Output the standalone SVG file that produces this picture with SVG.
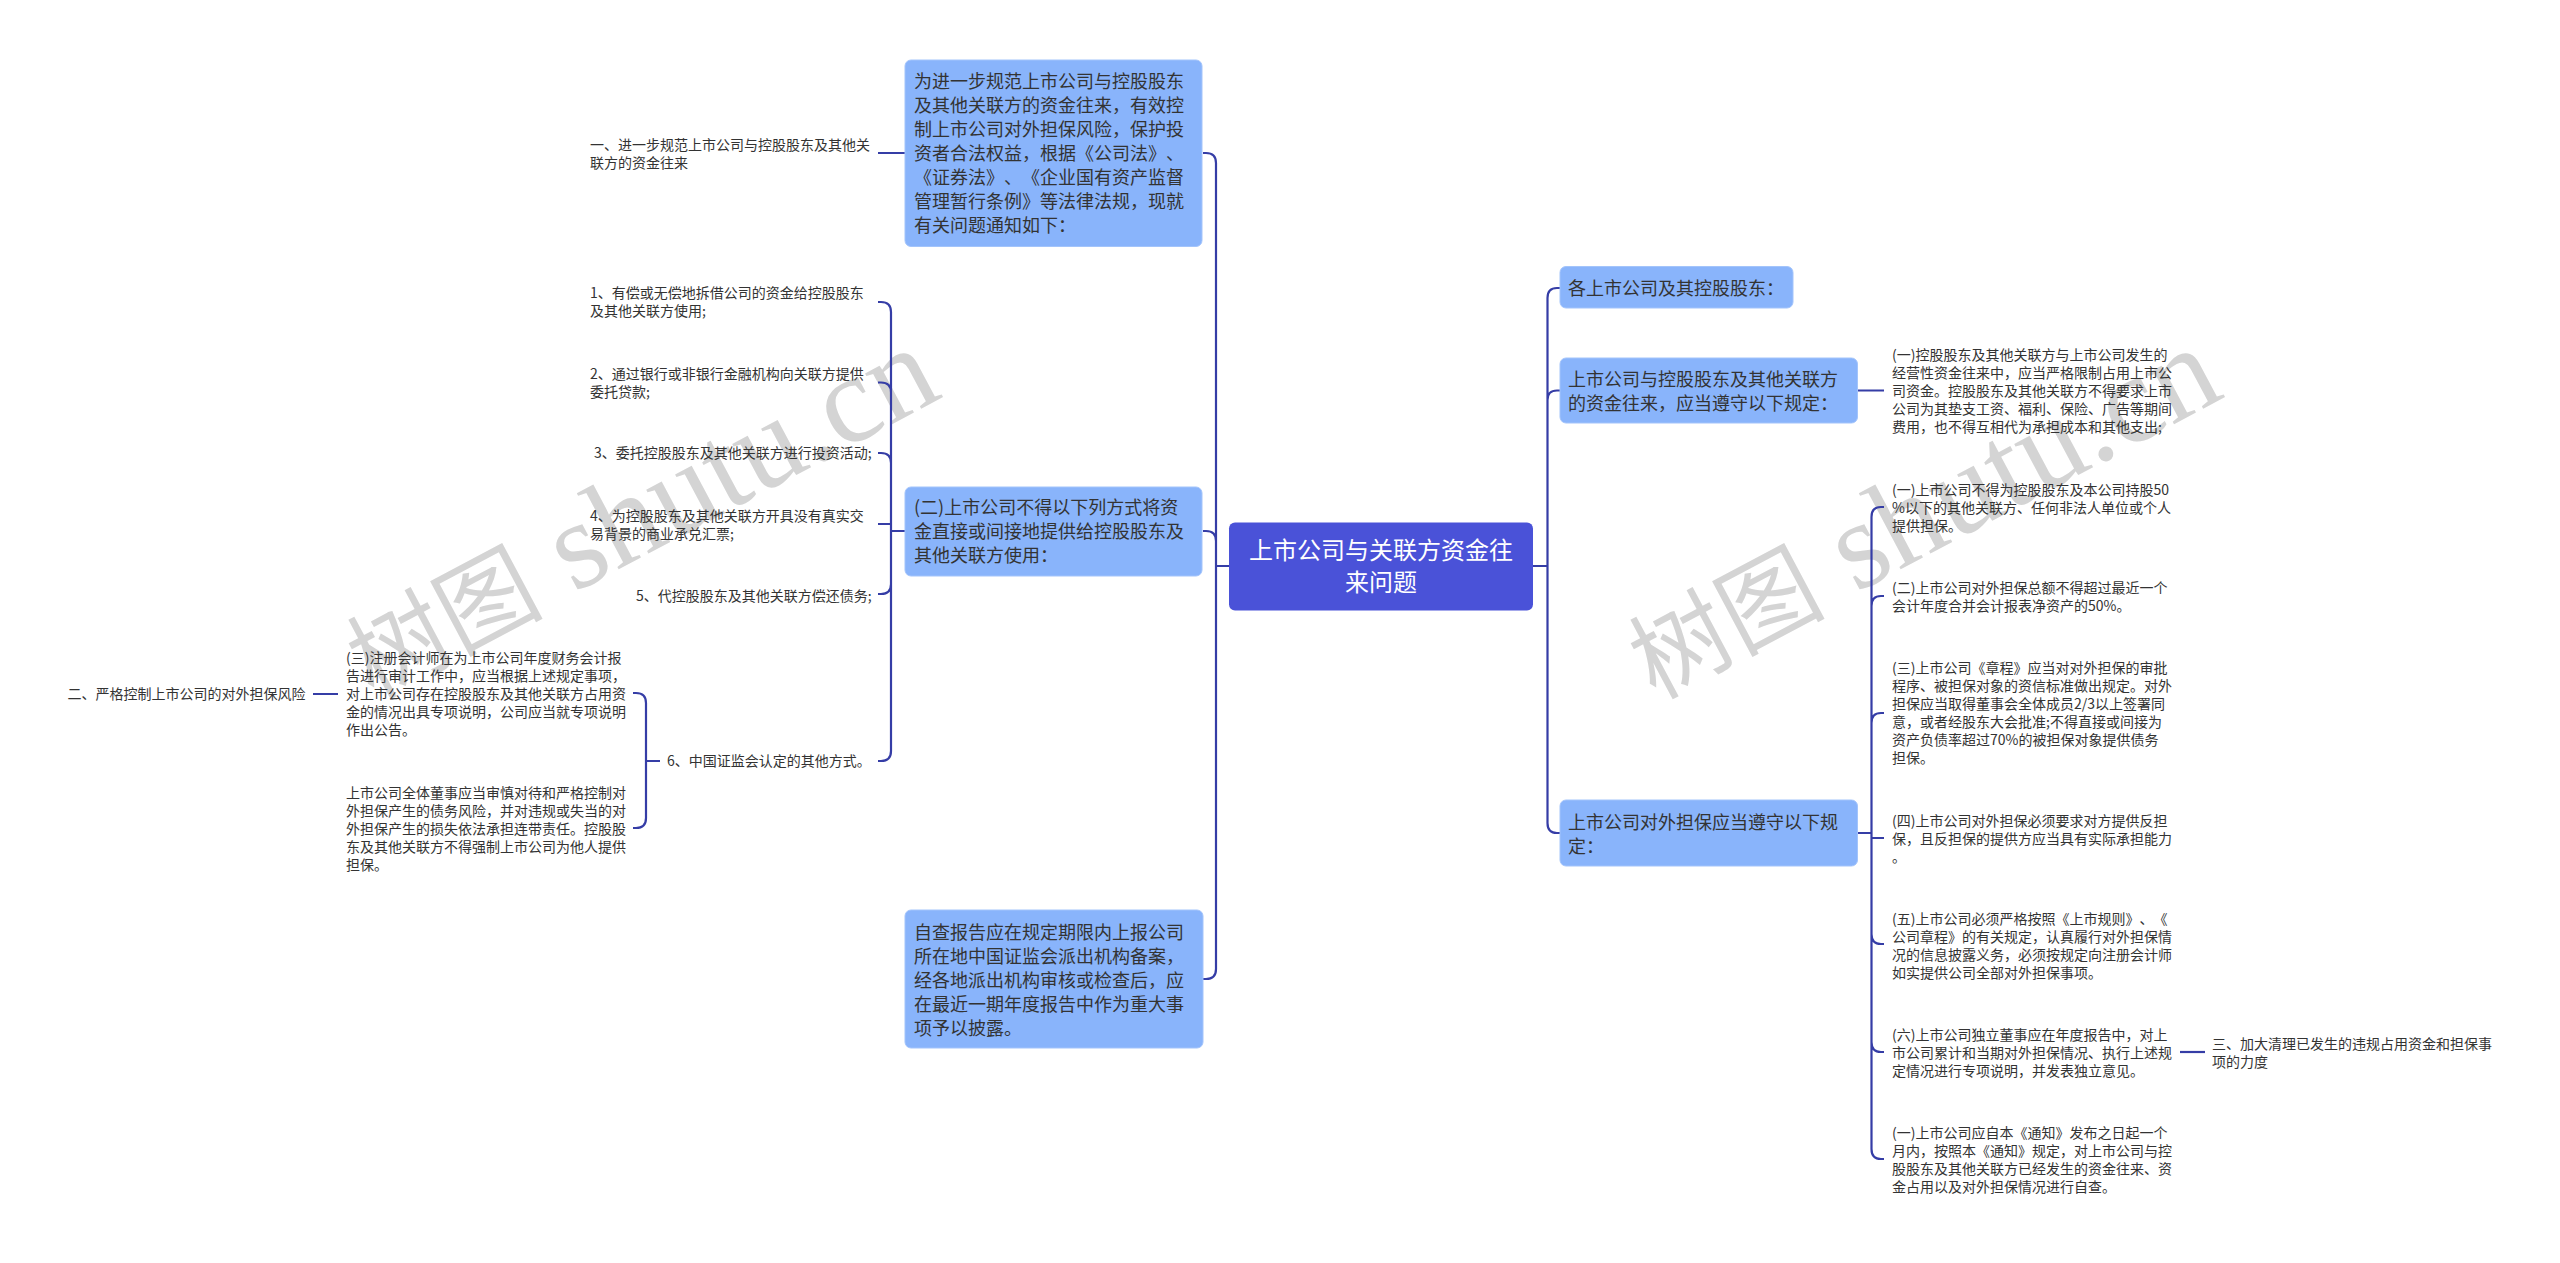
<svg xmlns="http://www.w3.org/2000/svg" width="2560" height="1263" viewBox="0 0 2560 1263">
<style>
text{font-family:"Noto Sans CJK SC","Noto Sans",sans-serif;fill:#333;text-spacing-trim:space-all}
.s{font-size:14px}
.m{font-size:18px}
.r{font-size:24px;fill:#fff;text-anchor:middle}
.b{fill:#89b4fb;stroke:#a3c4fb;stroke-width:1}
.c{fill:none;stroke:#353da6;stroke-width:2.2}
.w{font-family:"Liberation Serif","Noto Sans CJK SC",serif;font-size:125px;fill:#d4d4d4}
.wc{font-family:"Noto Sans CJK SC",serif;font-size:98px}
</style>
<rect width="2560" height="1263" fill="#fff"/>
<g id="watermarks">
<text class="w" transform="translate(373 700) rotate(-28)"><tspan class="wc">树图</tspan> shutu.cn</text>
<text class="w" transform="translate(1655 700) rotate(-28)"><tspan class="wc">树图</tspan> shutu.cn</text>
</g>
<g id="connectors" class="c">
<path d="M1203 153H1206Q1216 153 1216 163V969Q1216 979 1206 979H1203M1203 531H1206Q1216 531 1216 541M1229 566H1216"/>
<path d="M1533 566H1547.5M1560 288H1557Q1547.5 288 1547.5 298V823Q1547.5 833 1557 833H1560M1560 390.5H1557Q1547.5 390.5 1547.5 400"/>
<path d="M1857 390.5H1884M1857 833H1871.5"/>
<path d="M1884 507H1881Q1871.5 507 1871.5 517V1149Q1871.5 1159 1881 1159H1884M1884 596H1881Q1871.5 596 1871.5 606M1884 713H1881Q1871.5 713 1871.5 723M1871.5 838H1884M1884 944H1881Q1871.5 944 1871.5 934M1884 1052H1881Q1871.5 1052 1871.5 1042"/>
<path d="M2180 1052H2205"/>
<path d="M878 153H905M891 531H905"/>
<path d="M878 302H881Q891 302 891 312V751Q891 761 881 761H878M878 382.5H881Q891 382.5 891 392.5M878 453H881Q891 453 891 463M878 524H891M878 594H881Q891 594 891 584"/>
<path d="M633 693H636Q646 693 646 703V818Q646 828 636 828H633M646 761H660M313 694H338"/>
</g>
<g id="root"><rect x="1229" y="522.5" width="304" height="88" rx="6" fill="#4a52d8"/>
<text class="r"><tspan x="1381" y="558.5">上市公司与关联方资金往</tspan><tspan x="1381" y="590.5">来问题</tspan></text></g>
<g id="n1"><rect class="b" x="905" y="60" width="297" height="186.5" rx="6"/>
<text class="m"><tspan x="914" y="87.5">为进一步规范上市公司与控股股东</tspan><tspan x="914" y="111.5">及其他关联方的资金往来，有效控</tspan><tspan x="914" y="135.5">制上市公司对外担保风险，保护投</tspan><tspan x="914" y="159.5">资者合法权益，根据《公司法》、</tspan><tspan x="914" y="183.5">《证券法》、《企业国有资产监督</tspan><tspan x="914" y="207.5">管理暂行条例》等法律法规，现就</tspan><tspan x="914" y="231.5">有关问题通知如下：</tspan></text></g>
<g id="n2"><rect class="b" x="905" y="487" width="297" height="89" rx="6"/>
<text class="m"><tspan x="914" y="514">(二)上市公司不得以下列方式将资</tspan><tspan x="914" y="538">金直接或间接地提供给控股股东及</tspan><tspan x="914" y="562">其他关联方使用：</tspan></text></g>
<g id="n3"><rect class="b" x="905" y="910" width="298" height="138" rx="6"/>
<text class="m"><tspan x="914" y="938.5">自查报告应在规定期限内上报公司</tspan><tspan x="914" y="962.5">所在地中国证监会派出机构备案，</tspan><tspan x="914" y="986.5">经各地派出机构审核或检查后，应</tspan><tspan x="914" y="1010.5">在最近一期年度报告中作为重大事</tspan><tspan x="914" y="1034.5">项予以披露。</tspan></text></g>
<g id="n4"><rect class="b" x="1560" y="266.5" width="233" height="41.5" rx="6"/>
<text class="m"><tspan x="1568" y="294.5">各上市公司及其控股股东：</tspan></text></g>
<g id="n5"><rect class="b" x="1560" y="358" width="297.5" height="65" rx="6"/>
<text class="m"><tspan x="1568" y="385.5">上市公司与控股股东及其他关联方</tspan><tspan x="1568" y="409.5">的资金往来，应当遵守以下规定：</tspan></text></g>
<g id="n6"><rect class="b" x="1560" y="800" width="297.5" height="66" rx="6"/>
<text class="m"><tspan x="1568" y="828.5">上市公司对外担保应当遵守以下规</tspan><tspan x="1568" y="852.5">定：</tspan></text></g>
<g id="l1"><text class="s"><tspan x="590" y="150">一、进一步规范上市公司与控股股东及其他关</tspan><tspan x="590" y="168">联方的资金往来</tspan></text></g>
<g id="l2"><text class="s"><tspan x="590" y="298">1、有偿或无偿地拆借公司的资金给控股股东</tspan><tspan x="590" y="316">及其他关联方使用;</tspan></text></g>
<g id="l3"><text class="s"><tspan x="590" y="379">2、通过银行或非银行金融机构向关联方提供</tspan><tspan x="590" y="397">委托贷款;</tspan></text></g>
<g id="l4"><text class="s"><tspan x="594" y="458">3、委托控股股东及其他关联方进行投资活动;</tspan></text></g>
<g id="l5"><text class="s"><tspan x="590" y="521">4、为控股股东及其他关联方开具没有真实交</tspan><tspan x="590" y="539">易背景的商业承兑汇票;</tspan></text></g>
<g id="l6"><text class="s"><tspan x="636" y="601">5、代控股股东及其他关联方偿还债务;</tspan></text></g>
<g id="l7"><text class="s"><tspan x="667" y="766">6、中国证监会认定的其他方式。</tspan></text></g>
<g id="l8"><text class="s"><tspan x="346" y="663">(三)注册会计师在为上市公司年度财务会计报</tspan><tspan x="346" y="681">告进行审计工作中，应当根据上述规定事项，</tspan><tspan x="346" y="699">对上市公司存在控股股东及其他关联方占用资</tspan><tspan x="346" y="717">金的情况出具专项说明，公司应当就专项说明</tspan><tspan x="346" y="735">作出公告。</tspan></text></g>
<g id="l9"><text class="s"><tspan x="346" y="798">上市公司全体董事应当审慎对待和严格控制对</tspan><tspan x="346" y="816">外担保产生的债务风险，并对违规或失当的对</tspan><tspan x="346" y="834">外担保产生的损失依法承担连带责任。控股股</tspan><tspan x="346" y="852">东及其他关联方不得强制上市公司为他人提供</tspan><tspan x="346" y="870">担保。</tspan></text></g>
<g id="l10"><text class="s"><tspan x="67.5" y="699">二、严格控制上市公司的对外担保风险</tspan></text></g>
<g id="r1"><text class="s"><tspan x="1892" y="360">(一)控股股东及其他关联方与上市公司发生的</tspan><tspan x="1892" y="378">经营性资金往来中，应当严格限制占用上市公</tspan><tspan x="1892" y="396">司资金。控股股东及其他关联方不得要求上市</tspan><tspan x="1892" y="414">公司为其垫支工资、福利、保险、广告等期间</tspan><tspan x="1892" y="432">费用，也不得互相代为承担成本和其他支出;</tspan></text></g>
<g id="r2"><text class="s"><tspan x="1892" y="494.5">(一)上市公司不得为控股股东及本公司持股50</tspan><tspan x="1892" y="512.5">%以下的其他关联方、任何非法人单位或个人</tspan><tspan x="1892" y="530.5">提供担保。</tspan></text></g>
<g id="r3"><text class="s"><tspan x="1892" y="592.5">(二)上市公司对外担保总额不得超过最近一个</tspan><tspan x="1892" y="610.5">会计年度合并会计报表净资产的50%。</tspan></text></g>
<g id="r4"><text class="s"><tspan x="1892" y="673">(三)上市公司《章程》应当对对外担保的审批</tspan><tspan x="1892" y="691">程序、被担保对象的资信标准做出规定。对外</tspan><tspan x="1892" y="709">担保应当取得董事会全体成员2/3以上签署同</tspan><tspan x="1892" y="727">意，或者经股东大会批准;不得直接或间接为</tspan><tspan x="1892" y="745">资产负债率超过70%的被担保对象提供债务</tspan><tspan x="1892" y="763">担保。</tspan></text></g>
<g id="r5"><text class="s"><tspan x="1892" y="826">(四)上市公司对外担保必须要求对方提供反担</tspan><tspan x="1892" y="844">保，且反担保的提供方应当具有实际承担能力</tspan><tspan x="1892" y="862">。</tspan></text></g>
<g id="r6"><text class="s"><tspan x="1892" y="923.5">(五)上市公司必须严格按照《上市规则》、《</tspan><tspan x="1892" y="941.5">公司章程》的有关规定，认真履行对外担保情</tspan><tspan x="1892" y="959.5">况的信息披露义务，必须按规定向注册会计师</tspan><tspan x="1892" y="977.5">如实提供公司全部对外担保事项。</tspan></text></g>
<g id="r7"><text class="s"><tspan x="1892" y="1040">(六)上市公司独立董事应在年度报告中，对上</tspan><tspan x="1892" y="1058">市公司累计和当期对外担保情况、执行上述规</tspan><tspan x="1892" y="1076">定情况进行专项说明，并发表独立意见。</tspan></text></g>
<g id="r8"><text class="s"><tspan x="1892" y="1138">(一)上市公司应自本《通知》发布之日起一个</tspan><tspan x="1892" y="1156">月内，按照本《通知》规定，对上市公司与控</tspan><tspan x="1892" y="1174">股股东及其他关联方已经发生的资金往来、资</tspan><tspan x="1892" y="1192">金占用以及对外担保情况进行自查。</tspan></text></g>
<g id="r9"><text class="s"><tspan x="2212" y="1049">三、加大清理已发生的违规占用资金和担保事</tspan><tspan x="2212" y="1067">项的力度</tspan></text></g>
</svg>
